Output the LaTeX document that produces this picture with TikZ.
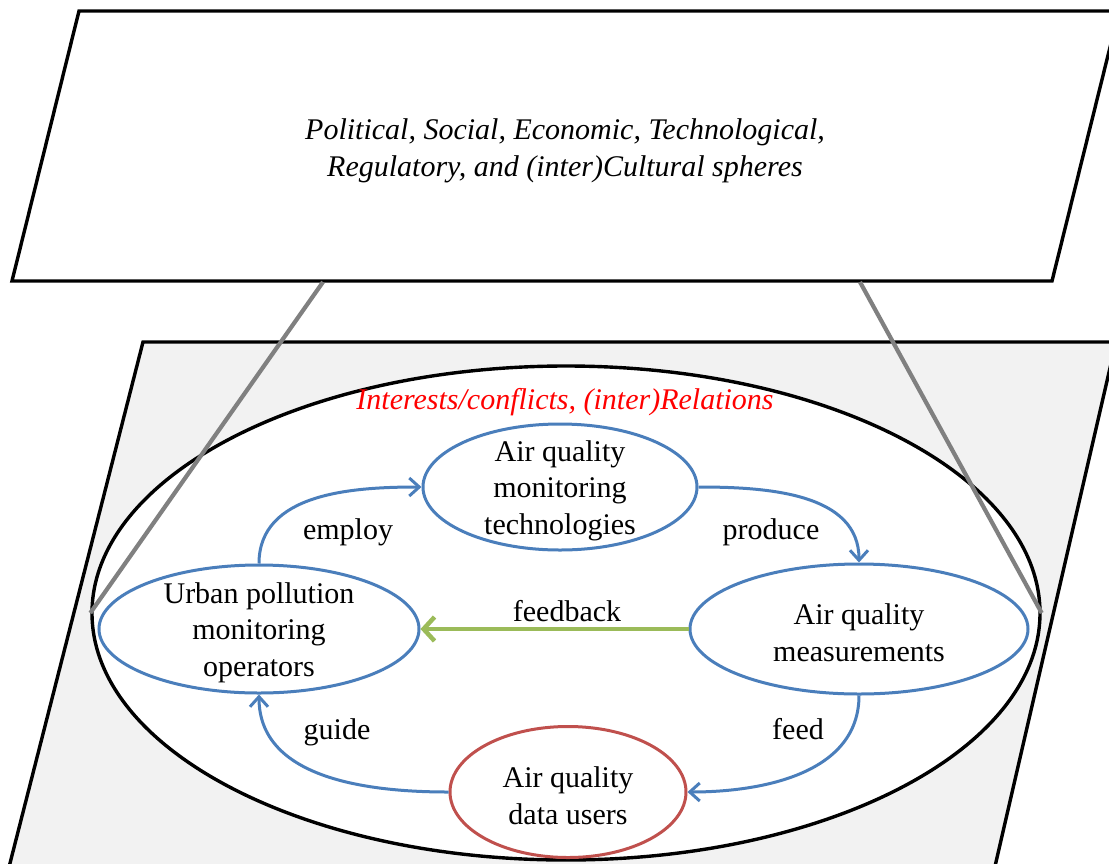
\documentclass[tikz,border=0pt]{standalone}
\usepackage{fontspec}
\setmainfont{Liberation Serif}
\usetikzlibrary{shapes.geometric,arrows.meta}
\definecolor{blueln}{HTML}{4A7EBB}
\definecolor{redln}{HTML}{C0504D}
\definecolor{greenln}{HTML}{9BBB59}
\definecolor{panegrey}{HTML}{F2F2F2}
\definecolor{linkgrey}{HTML}{808080}
\tikzset{
  pane/.style={draw=black, line width=3.4pt, line join=miter},
  actortext/.style={align=center, inner sep=0pt, yshift=-3.5pt, font=\fontsize{30}{36.5}\selectfont},
  actor/.style={ellipse, draw=blueln, line width=3pt, fill=white, inner sep=0pt},
  useractor/.style={actor, draw=redln},
  flow/.style={draw=blueln, line width=3pt, -{Straight Barb[length=10pt,width=18pt,line width=3pt]}},
  fbflow/.style={draw=greenln, line width=4.5pt, -{Straight Barb[length=11pt,width=24pt,line width=4.5pt]}},
  lbl/.style={anchor=base, font=\fontsize{30}{36.5}\selectfont},
  link/.style={draw=linkgrey, line width=4.2pt},
}
\begin{document}
\begin{tikzpicture}[x=1pt,y=-1pt]
\useasboundingbox (0,0) rectangle (1109,863);
\begin{scope}
\clip (0,0) rectangle (1109,863);
% top plane
\draw[pane, fill=white] (79,11) -- (1119,11) -- (1052,281) -- (12,281) -- cycle;
\node[align=center, font=\fontsize{30}{36.5}\selectfont\itshape] (spheres) at (565,151)
  {Political, Social, Economic, Technological,\\Regulatory, and (inter)Cultural spheres};
\coordinate (tl) at (323,282);
\coordinate (tr) at (860,282);
% lower plane
\draw[pane, fill=panegrey] (143,342) -- (1116,342) -- (993,875) -- (7,875) -- cycle;
% big ellipse
\node[ellipse, draw=black, line width=3.4pt, fill=white, minimum width=948pt, minimum height=494pt, inner sep=0pt] (arena) at (566,613) {};
\draw[link] (tl) -- (arena.west);
\draw[link] (tr) -- (arena.east);
\end{scope}
\node[font=\fontsize{30}{36.5}\selectfont\itshape, text=red] (interests) at (565,402) {Interests/conflicts, (inter)Relations};
% actors
\node[actor, minimum width=274pt, minimum height=126pt,
  label={[actortext]center:{Air quality\\monitoring\\technologies}}] (tech) at (560,487) {};
\node[actor, minimum width=320pt, minimum height=128pt,
  label={[actortext]center:{Urban pollution\\monitoring\\operators}}] (oper) at (259,629) {};
\node[actor, minimum width=338pt, minimum height=130pt,
  label={[actortext]center:{Air quality\\measurements}}] (meas) at (859,629) {};
\node[useractor, minimum width=236pt, minimum height=131pt,
  label={[actortext]center:{Air quality\\data users}}] (users) at (568,792) {};
% flows
\draw[flow] (oper.north) to[out=90, in=180] (tech.west);
\draw[flow] (tech.east) to[out=0, in=90] (meas.north);
\draw[flow] (meas.south) to[out=-90, in=0] (users.east);
\draw[flow] (users.west) to[out=180, in=-90] (oper.south);
\draw[fbflow] (meas.west) -- (oper.east);
% labels
\node[lbl] (lemploy) at (348,539) {employ};
\node[lbl] (lproduce) at (771,539) {produce};
\node[lbl] (lfeedback) at (567,621) {feedback};
\node[lbl] (lguide) at (337,739) {guide};
\node[lbl] (lfeed) at (798,739) {feed};
\end{tikzpicture}
\end{document}
